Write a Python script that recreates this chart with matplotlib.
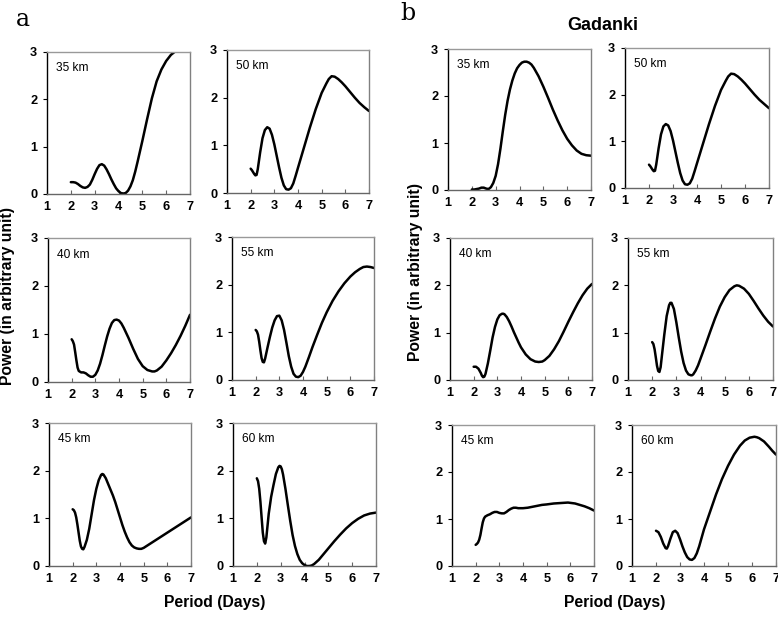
import matplotlib
matplotlib.use('Agg')
import matplotlib.pyplot as plt

plt.rcParams['font.family'] = ['Liberation Sans', 'DejaVu Sans']

# ---- data: period (days) vs power (arbitrary unit) ----
# panel a
a35_x = [2.0, 2.1, 2.2, 2.3, 2.4, 2.5, 2.6, 2.7, 2.8, 2.9, 3.0, 3.1, 3.2, 3.3, 3.4,
         3.5, 3.6, 3.7, 3.8, 3.9, 4.0, 4.1, 4.2, 4.3, 4.4, 4.5, 4.6, 4.7, 4.8, 5.0,
         5.2, 5.4, 5.6, 5.8, 6.0, 6.2, 6.35]
a35_y = [0.25, 0.25, 0.24, 0.21, 0.17, 0.14, 0.13, 0.15, 0.2, 0.3, 0.42, 0.53, 0.61, 0.63, 0.6,
         0.52, 0.42, 0.31, 0.21, 0.12, 0.06, 0.02, 0.01, 0.02, 0.07, 0.16, 0.29, 0.47, 0.68, 1.12,
         1.58, 2.02, 2.38, 2.63, 2.81, 2.94, 3.0]

a50_x = [2.0, 2.05, 2.1, 2.15, 2.2, 2.25, 2.3, 2.4, 2.5, 2.6, 2.7, 2.8, 2.9, 3.0, 3.1,
         3.2, 3.3, 3.4, 3.5, 3.6, 3.7, 3.8, 3.9, 4.0, 4.25, 4.5, 4.75, 5.0, 5.2, 5.3,
         5.42, 5.55, 5.7, 5.85, 6.0, 6.2, 6.4, 6.6, 6.8, 7.0]
a50_y = [0.51, 0.48, 0.44, 0.4, 0.37, 0.38, 0.5, 0.85, 1.15, 1.32, 1.38, 1.35, 1.22, 1.02, 0.78,
         0.54, 0.32, 0.16, 0.08, 0.07, 0.1, 0.2, 0.36, 0.53, 0.95, 1.37, 1.76, 2.1, 2.3, 2.39,
         2.45, 2.44, 2.39, 2.32, 2.24, 2.12, 2.0, 1.89, 1.8, 1.72]

a40_x = [2.0, 2.05, 2.1, 2.15, 2.2, 2.25, 2.3, 2.4, 2.5, 2.6, 2.7, 2.8, 2.9, 3.0, 3.1,
         3.2, 3.3, 3.4, 3.5, 3.6, 3.7, 3.8, 3.9, 4.0, 4.1, 4.2, 4.4, 4.6, 4.8, 5.0,
         5.2, 5.4, 5.5, 5.6, 5.8, 6.0, 6.2, 6.4, 6.6, 6.8, 7.0]
a40_y = [0.89, 0.85, 0.78, 0.62, 0.45, 0.3, 0.23, 0.2, 0.2, 0.18, 0.14, 0.11, 0.11, 0.15, 0.24,
         0.38, 0.56, 0.76, 0.95, 1.11, 1.23, 1.29, 1.3, 1.28, 1.22, 1.13, 0.92, 0.69, 0.48, 0.33,
         0.25, 0.22, 0.22, 0.24, 0.32, 0.45, 0.6, 0.77, 0.96, 1.17, 1.4]

a55_x = [2.0, 2.05, 2.1, 2.15, 2.2, 2.25, 2.3, 2.35, 2.4, 2.5, 2.6, 2.7, 2.8, 2.9, 3.0,
         3.1, 3.2, 3.3, 3.4, 3.5, 3.6, 3.7, 3.8, 3.9, 4.0, 4.1, 4.25, 4.4, 4.6, 4.8,
         5.0, 5.25, 5.5, 5.75, 6.0, 6.2, 6.4, 6.55, 6.7, 6.85, 7.0]
a55_y = [1.05, 1.02, 0.95, 0.8, 0.62, 0.46, 0.38, 0.37, 0.45, 0.68, 0.9, 1.1, 1.25, 1.34, 1.35,
         1.25, 1.05, 0.78, 0.5, 0.28, 0.13, 0.07, 0.06, 0.09, 0.17, 0.28, 0.48, 0.69, 0.95, 1.2,
         1.42, 1.66, 1.86, 2.03, 2.17, 2.26, 2.33, 2.37, 2.38, 2.37, 2.35]

a45_x = [2.0, 2.05, 2.1, 2.15, 2.2, 2.25, 2.3, 2.35, 2.4, 2.45, 2.5, 2.6, 2.7, 2.8, 2.9,
         3.0, 3.1, 3.2, 3.25, 3.3, 3.4, 3.5, 3.6, 3.7, 3.8, 3.9, 4.0, 4.1, 4.2, 4.3,
         4.4, 4.5, 4.6, 4.7, 4.8, 4.9, 5.0, 5.25, 5.5, 5.75, 6.0, 6.25, 6.5, 6.75, 7.0]
a45_y = [1.19, 1.17, 1.12, 1.02, 0.87, 0.7, 0.53, 0.41, 0.36, 0.35, 0.4, 0.55, 0.78, 1.08, 1.38,
         1.62, 1.8, 1.91, 1.93, 1.92, 1.84, 1.72, 1.6, 1.48, 1.34, 1.18, 1.02, 0.86, 0.72, 0.6,
         0.5, 0.43, 0.39, 0.37, 0.36, 0.36, 0.38, 0.46, 0.54, 0.62, 0.7, 0.78, 0.86, 0.94, 1.02]

a60_x = [2.0, 2.05, 2.1, 2.15, 2.2, 2.25, 2.3, 2.35, 2.4, 2.45, 2.5, 2.6, 2.7, 2.8, 2.9,
         2.95, 3.0, 3.05, 3.1, 3.2, 3.3, 3.4, 3.5, 3.6, 3.7, 3.8, 3.9, 4.0, 4.1, 4.2,
         4.3, 4.4, 4.6, 4.8, 5.0, 5.25, 5.5, 5.75, 6.0, 6.25, 6.5, 6.75, 7.0]
a60_y = [1.84, 1.78, 1.62, 1.35, 1.02, 0.7, 0.52, 0.47, 0.6, 0.85, 1.1, 1.45, 1.7, 1.93, 2.07,
         2.1, 2.09, 2.03, 1.92, 1.62, 1.28, 0.95, 0.65, 0.42, 0.25, 0.13, 0.06, 0.02, 0.0, 0.0,
         0.01, 0.04, 0.13, 0.25, 0.37, 0.52, 0.66, 0.79, 0.9, 0.99, 1.06, 1.1, 1.12]

# panel b (Gadanki)
b35_x = [2.0, 2.1, 2.2, 2.3, 2.4, 2.5, 2.6, 2.7, 2.8, 2.9, 3.0, 3.1, 3.2, 3.3, 3.4,
         3.5, 3.6, 3.7, 3.8, 3.9, 4.0, 4.1, 4.2, 4.3, 4.4, 4.5, 4.6, 4.8, 5.0, 5.2,
         5.4, 5.6, 5.8, 6.0, 6.2, 6.4, 6.6, 6.8, 7.0]
b35_y = [0.01, 0.01, 0.02, 0.03, 0.05, 0.05, 0.03, 0.02, 0.06, 0.15, 0.3, 0.55, 0.88, 1.25, 1.6,
         1.9, 2.14, 2.33, 2.48, 2.59, 2.66, 2.71, 2.73, 2.73, 2.71, 2.67, 2.6, 2.42, 2.2, 1.96,
         1.71, 1.48, 1.27, 1.09, 0.95, 0.84, 0.77, 0.74, 0.73]

b50_x = [2.0, 2.05, 2.1, 2.15, 2.2, 2.25, 2.3, 2.4, 2.5, 2.6, 2.7, 2.8, 2.9, 3.0, 3.1,
         3.2, 3.3, 3.4, 3.5, 3.6, 3.7, 3.8, 3.9, 4.0, 4.25, 4.5, 4.75, 5.0, 5.2, 5.3,
         5.42, 5.55, 5.7, 5.85, 6.0, 6.2, 6.4, 6.6, 6.8, 7.0]
b50_y = [0.5, 0.47, 0.43, 0.39, 0.36, 0.37, 0.5, 0.85, 1.15, 1.32, 1.37, 1.34, 1.22, 1.02, 0.78,
         0.54, 0.32, 0.16, 0.08, 0.07, 0.1, 0.2, 0.36, 0.53, 0.95, 1.37, 1.76, 2.1, 2.3, 2.39,
         2.45, 2.44, 2.39, 2.32, 2.24, 2.12, 2.0, 1.89, 1.8, 1.71]

b40_x = [2.0, 2.1, 2.2, 2.3, 2.35, 2.4, 2.45, 2.5, 2.6, 2.7, 2.8, 2.9, 3.0, 3.1, 3.2,
         3.25, 3.3, 3.4, 3.5, 3.6, 3.7, 3.8, 3.9, 4.0, 4.2, 4.4, 4.6, 4.75, 4.9, 5.0,
         5.2, 5.4, 5.6, 5.8, 6.0, 6.2, 6.4, 6.6, 6.8, 7.0]
b40_y = [0.28, 0.28, 0.24, 0.15, 0.09, 0.06, 0.07, 0.13, 0.35, 0.62, 0.9, 1.12, 1.28, 1.37, 1.4,
         1.4, 1.39, 1.33, 1.24, 1.13, 1.01, 0.9, 0.79, 0.69, 0.54, 0.44, 0.39, 0.38, 0.39, 0.42,
         0.51, 0.65, 0.82, 1.02, 1.23, 1.43, 1.62, 1.79, 1.93, 2.03]

b55_x = [2.0, 2.05, 2.1, 2.15, 2.2, 2.25, 2.3, 2.35, 2.4, 2.5, 2.6, 2.7, 2.75, 2.8, 2.9,
         3.0, 3.1, 3.2, 3.3, 3.4, 3.5, 3.6, 3.65, 3.7, 3.8, 3.9, 4.0, 4.2, 4.4, 4.6,
         4.8, 5.0, 5.2, 5.4, 5.5, 5.6, 5.8, 6.0, 6.2, 6.4, 6.6, 6.8, 7.0]
b55_y = [0.8, 0.76, 0.65, 0.48, 0.3, 0.19, 0.17, 0.27, 0.5, 0.95, 1.35, 1.58, 1.63, 1.63, 1.5,
         1.22, 0.9, 0.6, 0.36, 0.2, 0.12, 0.1, 0.1, 0.12, 0.2, 0.31, 0.45, 0.73, 1.02, 1.3,
         1.55, 1.75, 1.9, 1.98, 2.0, 1.99, 1.93, 1.82, 1.67, 1.51, 1.36, 1.23, 1.13]

b45_x = [2.0, 2.05, 2.1, 2.15, 2.2, 2.25, 2.3, 2.35, 2.4, 2.5, 2.6, 2.7, 2.8, 2.9, 3.0,
         3.1, 3.2, 3.3, 3.4, 3.5, 3.6, 3.7, 3.8, 4.0, 4.2, 4.4, 4.6, 4.8, 5.0, 5.3,
         5.6, 5.9, 6.2, 6.4, 6.6, 6.8, 7.0]
b45_y = [0.45, 0.47, 0.5, 0.56, 0.66, 0.8, 0.93, 1.01, 1.05, 1.08, 1.1, 1.13, 1.15, 1.15, 1.13,
         1.12, 1.12, 1.15, 1.19, 1.22, 1.24, 1.24, 1.23, 1.23, 1.24, 1.26, 1.28, 1.3, 1.31, 1.33,
         1.34, 1.35, 1.33, 1.3, 1.27, 1.23, 1.18]

b60_x = [2.0, 2.1, 2.2, 2.3, 2.4, 2.45, 2.5, 2.6, 2.7, 2.8, 2.9, 3.0, 3.1, 3.2, 3.3,
         3.4, 3.5, 3.6, 3.7, 3.8, 3.9, 4.0, 4.25, 4.5, 4.75, 5.0, 5.25, 5.5, 5.7, 5.9,
         6.1, 6.2, 6.3, 6.5, 6.7, 6.85, 7.0]
b60_y = [0.75, 0.72, 0.62, 0.48, 0.38, 0.37, 0.42, 0.58, 0.72, 0.75, 0.7, 0.57, 0.42, 0.29, 0.19,
         0.14, 0.13, 0.17, 0.27, 0.42, 0.6, 0.78, 1.15, 1.52, 1.85, 2.13, 2.37, 2.56, 2.67, 2.73,
         2.75, 2.74, 2.72, 2.65, 2.54, 2.45, 2.37]

heights = ['35 km', '50 km', '40 km', '55 km', '45 km', '60 km']
panel_a = [(a35_x, a35_y), (a50_x, a50_y), (a40_x, a40_y),
           (a55_x, a55_y), (a45_x, a45_y), (a60_x, a60_y)]
panel_b = [(b35_x, b35_y), (b50_x, b50_y), (b40_x, b40_y),
           (b55_x, b55_y), (b45_x, b45_y), (b60_x, b60_y)]

x_ticks = [1, 2, 3, 4, 5, 6, 7]
y_ticks = [0, 1, 2, 3]

# axes boxes in pixels (left, top, right, bottom)
W, H = 778, 618
boxes_a = [(47, 52, 190, 194), (227, 50, 369, 193),
           (48, 238, 190, 382), (232, 237, 374, 380),
           (49, 423, 191, 566), (233, 423, 376, 566)]
boxes_b = [(448, 49, 591, 190), (625, 48, 769, 188),
           (450, 238, 592, 380), (628, 238, 773, 380),
           (452, 425, 594, 566), (632, 425, 776, 566)]

fig = plt.figure(figsize=(W / 100, H / 100), dpi=100)


def draw_panel(boxes, series):
    for (l, t, r, b), (xs, ys), name in zip(boxes, series, heights):
        ax = fig.add_axes([l / W, 1 - b / H, (r - l) / W, (b - t) / H])
        ax.plot(xs, ys, color='black', lw=1.8, solid_capstyle='round',
                solid_joinstyle='round')
        ax.set_xlim(1, 7)
        ax.set_ylim(0, 3)
        ax.set_xticks(x_ticks)
        ax.set_yticks(y_ticks)
        ax.tick_params(axis='x', direction='in', length=3, pad=5,
                       labelsize=9.2, color='#666666')
        ax.tick_params(axis='y', direction='out', length=3, pad=4,
                       labelsize=9.2)
        for lab in ax.get_xticklabels() + ax.get_yticklabels():
            lab.set_fontweight('bold')
        ax.spines['left'].set_color('black')
        ax.spines['bottom'].set_color('#666666')
        ax.spines['top'].set_color('#999999')
        ax.spines['right'].set_color('#808080')
        for s in ax.spines.values():
            s.set_linewidth(1.0)
        ax.text(0.06, 0.885, name, transform=ax.transAxes, fontsize=8.6,
                va='center', ha='left')


draw_panel(boxes_a, panel_a)
draw_panel(boxes_b, panel_b)

fig.text(16 / W, 1 - 20 / H, 'a', family='DejaVu Serif', fontsize=17,
         ha='left', va='center')
fig.text(400 / W, 1 - 14 / H, 'b', family='DejaVu Serif', fontsize=17,
         ha='left', va='center')
fig.text(603 / W, 1 - 25 / H, 'Gadanki', fontsize=13, fontweight='bold',
         ha='center', va='center')

fig.text(8 / W, 1 - 296 / H, 'Power (in arbitrary unit)', rotation=90,
         fontsize=11.3, fontweight='bold', ha='center', va='center')
fig.text(416 / W, 1 - 272 / H, 'Power (in arbitrary unit)', rotation=90,
         fontsize=11.3, fontweight='bold', ha='center', va='center')
fig.text(215 / W, 1 - 602 / H, 'Period (Days)', fontsize=11.3,
         fontweight='bold', ha='center', va='center')
fig.text(615 / W, 1 - 602 / H, 'Period (Days)', fontsize=11.3,
         fontweight='bold', ha='center', va='center')

fig.savefig('out.png', dpi=100)
